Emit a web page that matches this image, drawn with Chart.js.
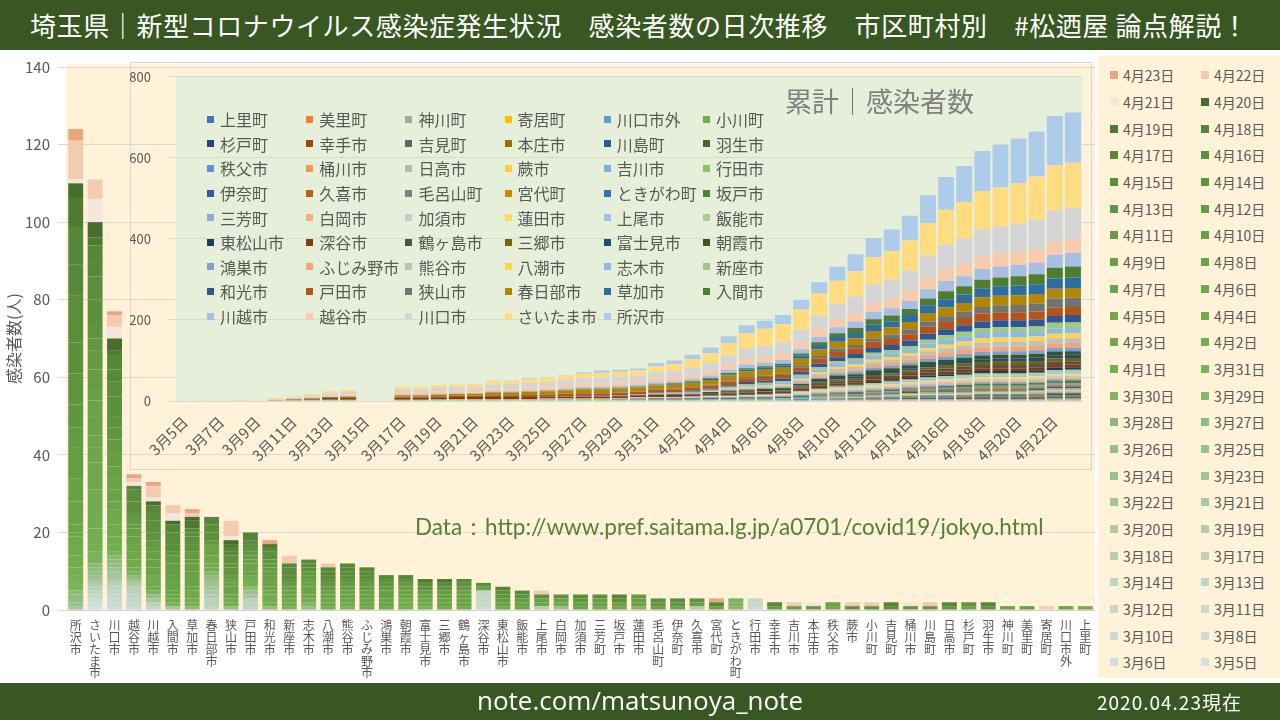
<!DOCTYPE html>
<html lang="ja">
<head>
<meta charset="utf-8">
<script src="https://cdn.jsdelivr.net/npm/chart.js@4.4.1/dist/chart.umd.min.js"></script>
<style>
html,body{margin:0;padding:0;}
body{width:1280px;height:720px;overflow:hidden;position:relative;background:#fff;font-family:"Noto Sans CJK JP","Noto Sans",sans-serif;}
.band{position:absolute;left:0;width:1280px;background:#385723;color:#fff;}
#hdr{top:0;height:50px;}
#hdr span{position:absolute;left:30px;top:0;line-height:50px;font-size:26px;letter-spacing:0.6px;white-space:nowrap;}
#ftr{top:683px;height:37px;}
#ftr .url{position:absolute;left:0;width:1280px;text-align:center;top:0;line-height:35px;font-family:"Open Sans",sans-serif;font-size:26px;}
#ftr .dt{position:absolute;left:1097px;top:0;line-height:37px;font-size:19px;letter-spacing:1px;}
#mainCv{position:absolute;left:0;top:50px;}
#insetBox{position:absolute;left:130px;top:62px;width:962px;height:408px;box-sizing:border-box;border:1px solid #D6D6D6;}
#insetCv{position:absolute;left:130px;top:52px;}
#dlegend{position:absolute;left:1098px;top:56px;width:182px;height:622px;background:#FFF2D8;box-sizing:border-box;padding:6px 0 0 12px;display:grid;grid-template-columns:91px 79px;grid-auto-rows:26.7px;font-size:14px;color:#595959;}
#clegend{position:absolute;left:207px;top:107px;display:grid;grid-template-columns:repeat(6,99.2px);grid-auto-rows:24.6px;font-size:16px;color:#595959;}
.li{display:flex;align-items:center;white-space:nowrap;}
#dlegend .sw{width:8px;height:8px;margin-right:5px;flex:none;}
#clegend .sw{width:7px;height:7px;margin-right:6px;flex:none;}
#insetTitle{position:absolute;left:785px;top:81px;font-size:27px;color:#7F7F7F;white-space:nowrap;}
#src{position:absolute;left:415px;top:512px;font-family:Lato,"Noto Sans",sans-serif;font-size:22.5px;color:#548235;white-space:nowrap;}
</style>
</head>
<body>
<div id="hdr" class="band"><span>埼玉県｜新型コロナウイルス感染症発生状況　感染者数の日次推移　市区町村別　#松迺屋 論点解説！</span></div>
<canvas id="mainCv" width="1095" height="633"></canvas>
<div id="insetBox"></div>
<canvas id="insetCv" width="962" height="418"></canvas>
<div id="insetTitle">累計｜感染者数</div>
<div id="clegend"></div>
<div id="dlegend"></div>
<div id="src">Data：http://www.pref.saitama.lg.jp/a0701/covid19/jokyo.html</div>
<div id="ftr" class="band"><div class="url">note.com/matsunoya_note</div><div class="dt">2020.04.23現在</div></div>
<script>
// ---------------- DATA ----------------
// municipalities, in the order of the main chart's x axis
const CITIES = ['所沢市','さいたま市','川口市','越谷市','川越市','入間市','草加市','春日部市','狭山市','戸田市','和光市','新座市','志木市','八潮市','熊谷市','ふじみ野市','鴻巣市','朝霞市','富士見市','三郷市','鶴ヶ島市','深谷市','東松山市','飯能市','上尾市','白岡市','加須市','三芳町','坂戸市','蓮田市','毛呂山町','伊奈町','久喜市','宮代町','ときがわ町','行田市','幸手市','吉川市','本庄市','秩父市','蕨市','小川町','吉見町','桶川市','川島町','日高市','杉戸町','羽生市','神川町','美里町','寄居町','川口市外','上里町'];

// report dates (series of the main chart)
const REPORT_DATES = ['3/5','3/6','3/8','3/10','3/11','3/12','3/13','3/14','3/17','3/18','3/19','3/20','3/21','3/22','3/23','3/24','3/25','3/26','3/27','3/28','3/29','3/30','3/31','4/1','4/2','4/3','4/4','4/5','4/6','4/7','4/8','4/9','4/10','4/11','4/12','4/13','4/14','4/15','4/16','4/17','4/18','4/19','4/20','4/21','4/22','4/23'];

// calendar days (x axis of the cumulative inset)
const CALENDAR_DAYS = ['3/5','3/6','3/7','3/8','3/9','3/10','3/11','3/12','3/13','3/14','3/15','3/16','3/17','3/18','3/19','3/20','3/21','3/22','3/23','3/24','3/25','3/26','3/27','3/28','3/29','3/30','3/31','4/1','4/2','4/3','4/4','4/5','4/6','4/7','4/8','4/9','4/10','4/11','4/12','4/13','4/14','4/15','4/16','4/17','4/18','4/19','4/20','4/21','4/22','4/23'];

// new cases per municipality: [report date, count]
const 所沢市 = [['3/22',1],['3/24',1],['3/27',2],['3/28',1],['3/31',3],['4/1',1],['4/2',2],['4/3',3],['4/4',3],['4/5',2],['4/6',1],['4/7',2],['4/8',2],['4/9',4],['4/10',6],['4/11',8],['4/12',5],['4/13',6],['4/14',8],['4/15',8],['4/16',12],['4/17',8],['4/18',10],['4/19',7],['4/20',4],['4/21',1],['4/22',10],['4/23',3]];
const さいたま市 = [['3/5',1],['3/6',1],['3/10',1],['3/12',1],['3/13',1],['3/17',1],['3/19',1],['3/22',1],['3/24',1],['3/26',1],['3/27',1],['3/28',1],['3/31',3],['4/1',2],['4/2',4],['4/3',4],['4/4',6],['4/5',7],['4/6',4],['4/7',3],['4/8',5],['4/9',4],['4/10',3],['4/11',5],['4/12',5],['4/13',3],['4/14',4],['4/15',6],['4/16',6],['4/17',4],['4/18',4],['4/19',2],['4/20',4],['4/21',6],['4/22',5]];
const 川口市 = [['3/8',1],['3/10',1],['3/11',1],['3/12',1],['3/13',1],['3/14',1],['3/17',1],['3/19',1],['3/22',2],['3/24',1],['3/26',1],['3/27',1],['3/28',1],['3/31',1],['4/2',2],['4/3',2],['4/4',3],['4/5',3],['4/6',1],['4/7',2],['4/8',3],['4/9',3],['4/10',3],['4/11',3],['4/12',4],['4/13',3],['4/14',3],['4/15',5],['4/16',4],['4/17',3],['4/18',4],['4/19',1],['4/20',3],['4/21',3],['4/22',3],['4/23',1]];
const 越谷市 = [['3/10',1],['3/12',1],['3/13',1],['3/14',1],['3/17',2],['3/20',1],['3/23',1],['3/27',1],['3/31',1],['4/2',1],['4/4',2],['4/5',2],['4/7',1],['4/8',1],['4/9',2],['4/10',2],['4/11',1],['4/12',2],['4/14',1],['4/15',3],['4/16',3],['4/18',1],['4/21',1],['4/22',1],['4/23',1]];
const 川越市 = [['3/12',1],['3/17',1],['3/22',1],['3/26',1],['3/31',1],['4/3',1],['4/4',2],['4/5',1],['4/8',2],['4/9',2],['4/10',2],['4/11',1],['4/12',2],['4/14',2],['4/15',3],['4/16',2],['4/18',2],['4/20',1],['4/21',1],['4/22',3],['4/23',1]];
const 入間市 = [['3/22',1],['3/31',1],['4/4',1],['4/6',1],['4/8',1],['4/9',2],['4/10',2],['4/11',3],['4/12',2],['4/14',1],['4/15',2],['4/16',3],['4/18',2],['4/20',1],['4/21',2],['4/22',2]];
const 草加市 = [['3/28',1],['4/1',1],['4/3',1],['4/5',2],['4/7',1],['4/8',2],['4/9',2],['4/10',2],['4/11',1],['4/12',2],['4/14',2],['4/15',2],['4/16',1],['4/17',1],['4/19',2],['4/20',1],['4/22',1],['4/23',1]];
const 春日部市 = [['3/13',1],['3/17',2],['3/19',1],['3/21',1],['3/22',1],['3/24',1],['3/25',1],['3/27',1],['3/29',1],['4/2',1],['4/3',1],['4/5',2],['4/8',2],['4/9',1],['4/12',1],['4/15',2],['4/16',2],['4/18',2]];
const 狭山市 = [['3/26',1],['4/2',1],['4/4',1],['4/6',1],['4/8',2],['4/9',1],['4/10',1],['4/12',1],['4/13',2],['4/14',1],['4/15',2],['4/17',1],['4/18',1],['4/19',1],['4/20',1],['4/21',1],['4/22',4]];
const 戸田市 = [['3/13',1],['3/14',1],['3/17',1],['3/22',1],['3/24',1],['3/27',1],['4/1',1],['4/3',1],['4/4',1],['4/8',1],['4/9',2],['4/10',1],['4/11',1],['4/12',1],['4/14',1],['4/15',1],['4/16',1],['4/18',2]];
const 和光市 = [['3/27',1],['4/2',1],['4/4',2],['4/5',1],['4/7',1],['4/8',1],['4/9',2],['4/10',1],['4/11',1],['4/12',1],['4/13',1],['4/15',2],['4/17',1],['4/19',1],['4/23',1]];
const 新座市 = [['3/31',1],['4/4',1],['4/5',1],['4/8',1],['4/9',1],['4/10',1],['4/12',1],['4/14',1],['4/15',1],['4/16',2],['4/18',1],['4/22',2]];
const 志木市 = [['3/26',1],['3/30',1],['4/3',1],['4/5',1],['4/8',2],['4/9',1],['4/10',1],['4/11',1],['4/12',1],['4/15',1],['4/16',1],['4/17',1]];
const 八潮市 = [['4/2',1],['4/5',1],['4/7',1],['4/8',1],['4/9',1],['4/11',1],['4/13',1],['4/15',1],['4/16',1],['4/17',1],['4/18',1],['4/22',1]];
const 熊谷市 = [['3/31',1],['4/4',1],['4/6',1],['4/8',1],['4/9',1],['4/10',1],['4/12',1],['4/14',1],['4/15',1],['4/16',1],['4/17',1],['4/18',1]];
const ふじみ野市 = [['4/4',1],['4/5',1],['4/8',1],['4/9',1],['4/10',1],['4/11',1],['4/12',1],['4/14',1],['4/15',1],['4/16',1],['4/18',1]];
const 鴻巣市 = [['4/5',1],['4/8',1],['4/9',1],['4/10',2],['4/11',1],['4/14',1],['4/15',1],['4/17',1]];
const 朝霞市 = [['4/1',1],['4/3',1],['4/4',1],['4/8',1],['4/9',1],['4/10',1],['4/12',1],['4/15',1],['4/18',1]];
const 富士見市 = [['3/31',1],['4/4',1],['4/6',1],['4/9',1],['4/11',1],['4/13',1],['4/16',1],['4/19',1]];
const 三郷市 = [['4/4',1],['4/8',1],['4/9',1],['4/10',1],['4/12',1],['4/14',1],['4/16',1],['4/19',1]];
const 鶴ヶ島市 = [['4/4',1],['4/7',1],['4/8',1],['4/9',1],['4/10',1],['4/12',1],['4/15',1],['4/17',1]];
const 深谷市 = [['3/10',1],['3/11',1],['3/12',1],['3/13',2],['4/9',1],['4/15',1]];
const 東松山市 = [['4/3',1],['4/9',1],['4/12',1],['4/14',1],['4/15',1],['4/18',1]];
const 飯能市 = [['4/8',1],['4/9',1],['4/12',1],['4/15',1],['4/17',1]];
const 上尾市 = [['3/19',1],['4/6',1],['4/10',1],['4/15',1],['4/22',1]];
const 白岡市 = [['3/25',1],['4/3',1],['4/9',1],['4/14',1]];
const 加須市 = [['4/7',1],['4/10',1],['4/13',1],['4/16',1]];
const 三芳町 = [['4/2',1],['4/8',1],['4/11',1],['4/15',1]];
const 坂戸市 = [['4/5',1],['4/9',1],['4/16',1],['4/18',1]];
const 蓮田市 = [['3/30',1],['4/8',1],['4/10',1],['4/12',1]];
const 毛呂山町 = [['4/9',1],['4/12',1],['4/15',1]];
const 伊奈町 = [['4/8',1],['4/13',1],['4/16',1]];
const 久喜市 = [['3/20',1],['4/10',1],['4/14',1]];
const 宮代町 = [['4/9',1],['4/17',1],['4/23',1]];
const ときがわ町 = [['3/29',1],['3/30',1],['3/31',1]];
const 行田市 = [['3/10',1],['3/11',1],['3/12',1]];
const 幸手市 = [['4/11',1],['4/17',1]];
const 吉川市 = [['4/10',1],['4/22',1]];
const 本庄市 = [['4/12',1],['4/21',1]];
const 秩父市 = [['4/5',1],['4/8',1]];
const 蕨市 = [['4/14',1],['4/22',1]];
const 小川町 = [['4/13',1],['4/22',1]];
const 吉見町 = [['4/15',1],['4/18',1]];
const 桶川市 = [['4/12',1],['4/21',1]];
const 川島町 = [['4/12',1],['4/22',1]];
const 日高市 = [['4/13',1],['4/17',1]];
const 杉戸町 = [['4/8',1],['4/14',1]];
const 羽生市 = [['4/14',1],['4/18',1]];
const 神川町 = [['4/9',1]];
const 美里町 = [['4/10',1]];
const 寄居町 = [['4/22',1]];
const 川口市外 = [['4/7',1]];
const 上里町 = [['4/3',1]];

const CITY_CASES = [所沢市,さいたま市,川口市,越谷市,川越市,入間市,草加市,春日部市,狭山市,戸田市,和光市,新座市,志木市,八潮市,熊谷市,ふじみ野市,鴻巣市,朝霞市,富士見市,三郷市,鶴ヶ島市,深谷市,東松山市,飯能市,上尾市,白岡市,加須市,三芳町,坂戸市,蓮田市,毛呂山町,伊奈町,久喜市,宮代町,ときがわ町,行田市,幸手市,吉川市,本庄市,秩父市,蕨市,小川町,吉見町,桶川市,川島町,日高市,杉戸町,羽生市,神川町,美里町,寄居町,川口市外,上里町];

// series order of the cumulative inset (bottom -> top)
const INSET_ORDER = ['上里町','美里町','神川町','寄居町','川口市外','小川町','杉戸町','幸手市','吉見町','本庄市','川島町','羽生市','秩父市','桶川市','日高市','蕨市','吉川市','行田市','伊奈町','久喜市','毛呂山町','宮代町','ときがわ町','坂戸市','三芳町','白岡市','加須市','蓮田市','上尾市','飯能市','東松山市','深谷市','鶴ヶ島市','三郷市','富士見市','朝霞市','鴻巣市','ふじみ野市','熊谷市','八潮市','志木市','新座市','和光市','戸田市','狭山市','春日部市','草加市','入間市','川越市','越谷市','川口市','さいたま市','所沢市'];

// ---------------- STYLES ----------------
const INSET_COLORS = ['#4472C4','#ED7D31','#A5A5A5','#FFC000','#5B9BD5','#70AD47',
'#264478','#9E480E','#636363','#997300','#255E91','#43682B',
'#698ED0','#F1975A','#B7B7B7','#FFCD33','#7CAFDD','#8CC168',
'#335AA1','#C55A11','#7F7F7F','#BF9000','#2E75B6','#548235',
'#8FAADC','#F4B183','#C9C9C9','#FFD966','#9DC3E6','#A9D18E',
'#203864','#843C0C','#525252','#7F6000','#1F4E79','#375623',
'#7F9ED6','#F2A577','#C0C0C0','#FFD34D','#8DB9E2','#9DCA80',
'#2F5597','#B4541A','#737373','#B38600','#2E6CA4','#4E7D30',
'#A9BEE4','#F8CBAD','#D5D5D5','#FFDC80','#ADCCEA'];

// colour ramp anchors for the daily series: [date index, rgb]
const RAMP = [[0,[212,225,221]],[7,[190,211,192]],[13,[165,197,158]],[19,[139,186,116]],[23,[116,176,80]],[32,[104,160,70]],[40,[86,134,56]],[42,[72,110,46]]];
const LAST_DAY_COLORS = {'4/21':'#F4E6DC','4/22':'#F3CBAE','4/23':'#EAA77F'};
function dateColor(i){
  const d = REPORT_DATES[i];
  if (LAST_DAY_COLORS[d]) return LAST_DAY_COLORS[d];
  for (let k=0;k<RAMP.length-1;k++){
    const [i0,c0]=RAMP[k],[i1,c1]=RAMP[k+1];
    if (i>=i0 && i<=i1){
      const t=(i-i0)/(i1-i0);
      const c=c0.map((v,j)=>Math.round(v+(c1[j]-v)*t));
      return `rgb(${c[0]},${c[1]},${c[2]})`;
    }
  }
  return '#486E2E';
}
const jpDate = s => s.replace('/', '月') + '日';
const FONT = '"Noto Sans CJK JP","Noto Sans",sans-serif';
const GREY = '#595959';

// ---------------- TABLES ----------------
// daily[cityIndex][dateIndex]
const daily = CITY_CASES.map(list => {
  const row = REPORT_DATES.map(() => 0);
  list.forEach(([d,n]) => { row[REPORT_DATES.indexOf(d)] += n; });
  return row;
});

const areaBg = {
  id: 'areaBg',
  beforeDraw(chart, args, opts){
    const {ctx, chartArea:a} = chart;
    ctx.save();
    ctx.fillStyle = opts.color;
    ctx.fillRect(a.left, a.top - (opts.extendTop||0), a.right - a.left, a.bottom - a.top + (opts.extendTop||0));
    ctx.restore();
  }
};

// ---------------- MAIN CHART ----------------
const mainDatasets = REPORT_DATES.map((d, di) => ({
  label: jpDate(d),
  data: CITIES.map((c, ci) => daily[ci][di] || null),
  backgroundColor: dateColor(di),
  borderWidth: 0,
  categoryPercentage: 0.8,
  barPercentage: 0.96
}));

const mainChart = new Chart(document.getElementById('mainCv'), {
  type: 'bar',
  data: { labels: CITIES.map(c => Array.from(c)), datasets: mainDatasets },
  plugins: [areaBg],
  options: {
    responsive: false, animation: false,
    layout: { padding: { top: 16, right: 0, left: 0, bottom: 0 } },
    plugins: { legend: { display: false }, tooltip: { enabled: false }, areaBg: { color: '#FFF2D8', extendTop: 3 } },
    scales: {
      x: {
        stacked: true,
        grid: { display: false },
        border: { color: '#D0D0D0' },
        ticks: { autoSkip: false, maxRotation: 0, minRotation: 0, color: GREY, padding: 2, font: { family: FONT, size: 12, lineHeight: 0.98 } },
        afterFit(s){ s.height = 73; }
      },
      y: {
        stacked: true, min: 0, max: 140,
        grid: { color: '#D9D9D9' },
        border: { display: false },
        ticks: { stepSize: 20, color: GREY, padding: 8, font: { family: FONT, size: 15 } },
        title: { display: true, text: '感染者数(人)', color: GREY, padding: 4, font: { family: FONT, size: 16 } },
        afterFit(s){ s.width = 66; }
      }
    }
  }
});

// ---------------- INSET (cumulative) ----------------
const insetDatasets = INSET_ORDER.map((name, k) => {
  const ci = CITIES.indexOf(name);
  let run = 0;
  const cum = {};
  REPORT_DATES.forEach((d, di) => { run += daily[ci][di]; cum[d] = run; });
  return {
    label: name,
    data: CALENDAR_DAYS.map(d => (d in cum) ? cum[d] : null),
    backgroundColor: INSET_COLORS[k],
    borderWidth: 0,
    categoryPercentage: 1,
    barPercentage: 0.88
  };
});

const insetChart = new Chart(document.getElementById('insetCv'), {
  type: 'bar',
  data: { labels: CALENDAR_DAYS.map(jpDate), datasets: insetDatasets },
  plugins: [areaBg],
  options: {
    responsive: false, animation: false,
    layout: { padding: { top: 5, right: 10, left: 0, bottom: 0 } },
    plugins: { legend: { display: false }, tooltip: { enabled: false }, areaBg: { color: '#E6EFDA' } },
    scales: {
      x: {
        stacked: true,
        grid: { display: false },
        border: { color: '#D9D9D9' },
        ticks: {
          autoSkip: false, minRotation: 45, maxRotation: 45, color: GREY, padding: 4,
          font: { family: FONT, size: 15 },
          callback: function(v, i){ return i % 2 === 0 ? this.getLabelForValue(v) : ''; }
        },
        afterFit(s){ s.height = 69; }
      },
      y: {
        stacked: true, min: 0, max: 800,
        grid: { color: '#D6DECB' },
        border: { display: false },
        ticks: { stepSize: 200, color: GREY, padding: 17, font: { family: FONT, size: 13 } },
        afterFit(s){ s.width = 46; }
      }
    }
  }
});

// ---------------- HTML LEGENDS ----------------
function item(color, text){
  const el = document.createElement('div');
  el.className = 'li';
  const sw = document.createElement('span');
  sw.className = 'sw';
  sw.style.background = color;
  el.appendChild(sw);
  el.appendChild(document.createTextNode(text));
  return el;
}
const dl = document.getElementById('dlegend');
mainChart.data.datasets.slice().reverse().forEach(ds => dl.appendChild(item(ds.backgroundColor, ds.label)));
const cl = document.getElementById('clegend');
insetChart.data.datasets.forEach(ds => cl.appendChild(item(ds.backgroundColor, ds.label)));
</script>
</body>
</html>
